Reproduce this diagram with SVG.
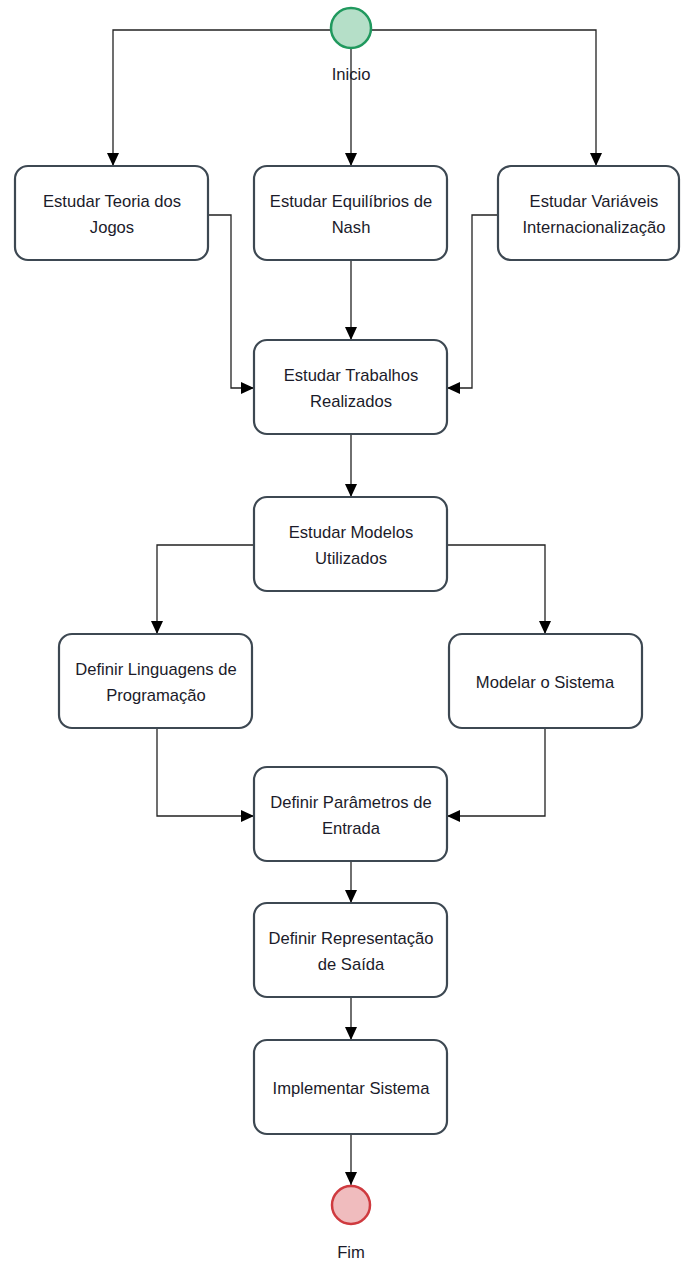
<svg xmlns="http://www.w3.org/2000/svg" width="681" height="1262" viewBox="0 0 681 1262">
<style>
.n rect{fill:#fff;stroke:#3d4852;stroke-width:2.2}
text{font-family:"Liberation Sans",Arial,sans-serif;font-size:16.6px;fill:#1b1b2a;text-anchor:middle}
.c path{fill:none;stroke:#222;stroke-width:1.3}
</style>
<defs>
<marker id="a" viewBox="0 0 13 12" refX="13" refY="6" markerWidth="13" markerHeight="12" markerUnits="userSpaceOnUse" orient="auto">
<path d="M0,0 L13,6 L0,12 Z" fill="#000"/>
</marker>
</defs>
<rect width="681" height="1262" fill="#fff"/>
<g class="c">
<path d="M331,30 H113 V166" marker-end="url(#a)"/>
<path d="M351,48 V166" marker-end="url(#a)"/>
<path d="M371,30 H596 V166" marker-end="url(#a)"/>
<path d="M208,215 H231 V388 H254" marker-end="url(#a)"/>
<path d="M351,260 V340" marker-end="url(#a)"/>
<path d="M498,215 H472 V388 H447" marker-end="url(#a)"/>
<path d="M351,434 V497" marker-end="url(#a)"/>
<path d="M254,545 H157 V634" marker-end="url(#a)"/>
<path d="M447,545 H545 V634" marker-end="url(#a)"/>
<path d="M157,728 V816 H254" marker-end="url(#a)"/>
<path d="M545,728 V816 H447" marker-end="url(#a)"/>
<path d="M351,861 V903" marker-end="url(#a)"/>
<path d="M351,997 V1040" marker-end="url(#a)"/>
<path d="M351,1134 V1185" marker-end="url(#a)"/>
</g>
<g id="inicio">
<circle cx="351" cy="28" r="20" fill="#b5dfc8" stroke="#20995e" stroke-width="2.5"/>
<text x="351" y="80">Inicio</text>
</g>
<g id="teoria" class="n"><rect x="15" y="166" width="193" height="94" rx="13"/><text x="112" y="207">Estudar Teoria dos</text><text x="112" y="233">Jogos</text></g>
<g id="nash" class="n"><rect x="254" y="166" width="193" height="94" rx="13"/><text x="351" y="207">Estudar Equilíbrios de</text><text x="351" y="233">Nash</text></g>
<g id="variaveis" class="n"><rect x="498" y="166" width="181" height="94" rx="13"/><text x="594" y="207">Estudar Variáveis</text><text x="594" y="233">Internacionalização</text></g>
<g id="trabalhos" class="n"><rect x="254" y="340" width="193" height="94" rx="13"/><text x="351" y="381">Estudar Trabalhos</text><text x="351" y="407">Realizados</text></g>
<g id="modelos" class="n"><rect x="254" y="497" width="193" height="94" rx="13"/><text x="351" y="538">Estudar Modelos</text><text x="351" y="564">Utilizados</text></g>
<g id="linguagens" class="n"><rect x="59" y="634" width="193" height="94" rx="13"/><text x="156" y="675">Definir Linguagens de</text><text x="156" y="701">Programação</text></g>
<g id="modelar" class="n"><rect x="449" y="634" width="193" height="94" rx="13"/><text x="545" y="688">Modelar o Sistema</text></g>
<g id="parametros" class="n"><rect x="254" y="767" width="193" height="94" rx="13"/><text x="351" y="808">Definir Parâmetros de</text><text x="351" y="834">Entrada</text></g>
<g id="representacao" class="n"><rect x="254" y="903" width="193" height="94" rx="13"/><text x="351" y="944">Definir Representação</text><text x="351" y="970">de Saída</text></g>
<g id="implementar" class="n"><rect x="254" y="1040" width="193" height="94" rx="13"/><text x="351" y="1094">Implementar Sistema</text></g>
<g id="fim">
<circle cx="351" cy="1205" r="19" fill="#f0bcbe" stroke="#cf3a3f" stroke-width="2.5"/>
<text x="351" y="1258">Fim</text>
</g>
</svg>
